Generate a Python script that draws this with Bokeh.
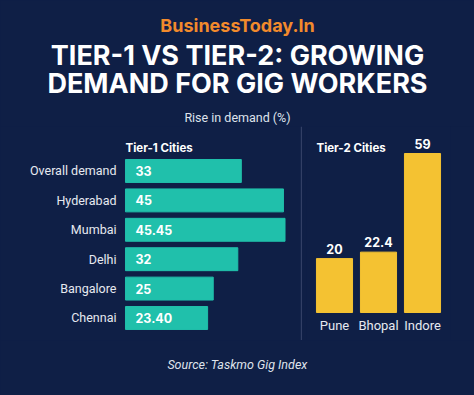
from bokeh.plotting import figure
from bokeh.models import Range1d, FactorRange, Label, Span, ColumnDataSource
from bokeh.layouts import column, row
from bokeh.embed import file_html
from bokeh.resources import INLINE
from bokeh.core.properties import value
from bokeh.transform import dodge

BG = "#0f1f46"
TEAL = "#20c0ab"
YELLOW = "#f4c232"
FONT = "Inter"
SFONT = "Roboto"

# ---- data ----
tier1_cities = ["Overall demand", "Hyderabad", "Mumbai", "Delhi", "Bangalore", "Chennai"]
tier1_values = [33, 45, 45.45, 32, 25, 23.40]
tier1_labels = ["33", "45", "45.45", "32", "25", "23.40"]

tier2_cities = ["Pune", "Bhopal", "Indore"]
tier2_values = [20, 22.4, 59]
tier2_labels = ["20", "22.4", "59"]

brand = "BusinessToday.In"
title_lines = ["TIER-1 VS TIER-2: GROWING", "DEMAND FOR GIG WORKERS"]
subtitle = "Rise in demand (%)"
source_note = "Source: Taskmo Gig Index"
group_titles = ["Tier-1 Cities", "Tier-2 Cities"]


def base(width, height, **kw):
    p = figure(width=width, height=height, toolbar_location=None, output_backend="svg",
               title=None, min_border_left=0, min_border_right=kw.pop("mbr", 0),
               min_border_top=0, min_border_bottom=0, **kw)
    p.background_fill_color = BG
    p.border_fill_color = BG
    p.outline_line_color = None
    p.grid.visible = False
    p.axis.visible = False
    return p

# ---- header ----
hdr = base(474, 126, x_range=Range1d(0, 474), y_range=Range1d(126, 0))
hdr.add_layout(Label(x=237, y=25, text=brand, text_align="center", text_baseline="middle",
                     text_color="#f28a2c", text_font=FONT, text_font_style="bold",
                     text_font_size="18px"))
for i, t in enumerate(title_lines):
    hdr.add_layout(Label(x=237, y=55 + 28 * i, text=t, text_align="center", text_baseline="middle",
                         text_color="white", text_font=FONT, text_font_style="bold",
                         text_font_size="27px"))
hdr.add_layout(Label(x=237, y=117, text=subtitle, text_align="center", text_baseline="middle",
                     text_color="#dfe3ec", text_font=SFONT, text_font_size="12.5px"))

# ---- tier 1 ----
src1 = ColumnDataSource(dict(city=tier1_cities, val=tier1_values, lab=tier1_labels))
yr1 = FactorRange(factors=list(reversed(tier1_cities)),
                  range_padding=0.6395, range_padding_units="absolute")
p1 = base(306, 214, y_range=yr1, x_range=Range1d(-35.61, 51.57))
ycity = dodge("city", -0.374, range=yr1)
p1.hbar(y=ycity, right="val", height=0.78, source=src1, color=TEAL)
p1.text(x=0, y=ycity, text="lab", source=src1, x_offset=10, text_baseline="middle",
        text_color="white", text_font=value(FONT), text_font_style="bold", text_font_size="12.5px")
p1.text(x=0, y=ycity, text="city", source=src1, x_offset=-9, text_align="right",
        text_baseline="middle", text_color="#e6e9f0", text_font=value(SFONT),
        text_font_size="12.5px")
p1.add_layout(Label(x=0, y=5.925, text=group_titles[0], text_baseline="middle",
                    text_color="white", text_font=FONT, text_font_style="bold",
                    text_font_size="11.5px"))
p1.add_layout(Span(location=50.1, dimension="height", line_color="#3a466c", line_width=1))

# ---- tier 2 ----
src2 = ColumnDataSource(dict(city=tier2_cities, val=tier2_values, lab=tier2_labels))
xr2 = FactorRange(factors=tier2_cities, range_padding=0.13636, range_padding_units="absolute")
p2 = base(168, 214, x_range=xr2, y_range=Range1d(-10.39, 69.02), mbr=24)
p2.vbar(x="city", top="val", width=0.82, source=src2, color=YELLOW)
p2.text(x="city", y="val", text="lab", source=src2, y_offset=-5, text_align="center",
        text_baseline="bottom", text_color="white", text_font=value(FONT),
        text_font_style="bold", text_font_size="12.5px")
p2.text(x="city", y=0, text="city", source=src2, y_offset=5, text_align="center",
        text_baseline="top", text_color="#e6e9f0", text_font=value(SFONT), text_font_size="13px")
p2.add_layout(Label(x=0.09, y=61.2, text=group_titles[1], text_baseline="middle",
                    text_color="white", text_font=FONT, text_font_style="bold",
                    text_font_size="11.5px"))

# ---- footer ----
ftr = base(474, 55, x_range=Range1d(0, 474), y_range=Range1d(395, 340))
ftr.add_layout(Label(x=237, y=364, text=source_note, text_align="center", text_baseline="middle",
                     text_color="#dfe3ec", text_font=SFONT, text_font_style="italic",
                     text_font_size="12.5px"))

mid = row(p1, p2, spacing=0, styles={"background-color": BG})
layout = column(hdr, mid, ftr, spacing=0, styles={"background-color": BG})

open("out.html", "w").write(file_html(layout, INLINE))
